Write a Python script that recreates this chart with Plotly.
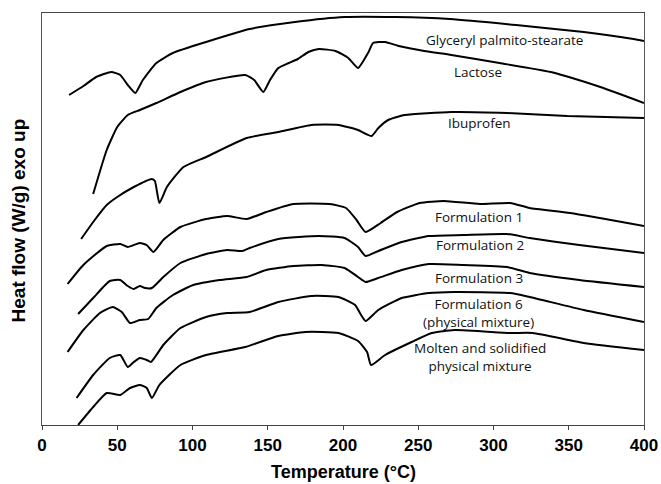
import plotly.graph_objects as go

# Temperature (°C) and heat flow (arbitrary units, exo up)
gps_T = [18, 27.5, 36, 46, 52, 57, 62, 67, 76, 87, 109, 138, 168, 201, 235, 271, 315, 360, 393, 400]
gps_H = [330, 339, 348, 353, 350, 340, 332, 345, 362, 372, 383, 396, 403, 408, 408, 406, 400, 393, 386, 384]

lac_T = [34, 43, 50, 57, 65, 76, 92, 109, 135, 141, 147, 151.5, 157, 164, 170, 177, 184, 195, 203.5, 210,
         217, 220, 228, 237, 254, 272, 304, 338, 371, 400]
lac_H = [231, 275, 298, 310, 315, 322, 333, 343, 350, 345, 333, 345, 357, 362, 366, 373, 376, 374, 367, 357,
         373, 382, 383, 379, 374, 370, 362, 353, 338, 322]

ibu_T = [26, 35, 43, 50, 61, 73, 75, 78, 83, 94, 109, 136, 157, 179, 197, 210, 219, 223.5, 230, 241, 272, 309, 349, 400]
ibu_H = [186, 205, 220, 228, 238, 246, 244, 222, 238, 258, 268, 287, 293, 300, 300, 295, 289, 297, 305, 310, 313, 312, 309, 307]

f1_T = [17, 27.5, 43, 52, 57, 65, 69.5, 74, 80.6, 92, 109, 123, 136, 149, 167, 191, 202, 209, 215, 225,
        236, 251, 267, 291, 311, 324, 351, 400]
f1_H = [141, 160, 179, 181, 178, 182, 180, 173, 185, 198, 206, 209, 206, 213, 221, 221, 217, 205, 193, 202,
        213, 222, 224, 221, 222, 217, 212, 199]

f2_T = [24, 34, 45, 52, 57, 61, 65, 68.4, 73, 80.6, 92, 109, 123, 133, 138, 157, 184, 201, 210, 215,
        223.5, 239, 257, 280, 309, 324, 357, 400]
f2_H = [111, 127, 144, 145, 139, 136, 139, 137, 137, 148, 162, 171, 175, 174, 177, 186, 189, 187, 178, 169,
        174, 183, 189, 190, 191, 187, 180, 172]

f3_T = [17, 27.5, 38.5, 47, 53, 58.5, 65, 70.6, 76, 87, 100.5, 118, 136, 149, 167, 186, 201, 210, 215,
        223.5, 239, 257, 280, 309, 324, 357, 400]
f3_H = [73, 95, 112, 118, 113, 102, 105, 106, 117, 130, 140, 145, 148, 155, 159, 160, 157, 148, 143,
        147, 155, 161, 160, 158, 152, 145, 138]

f6_T = [23, 34, 45, 52, 57, 61, 65, 69.6, 72.4, 80.6, 92, 109, 123, 138, 157, 179, 197, 208, 212, 215,
        223.5, 239, 257, 274, 311, 324, 360, 400]
f6_H = [27, 50, 67, 70, 58, 63, 67, 65, 63, 80, 97, 108, 112, 113, 123, 129, 128, 120, 110, 104,
        115, 127, 132, 133, 132, 128, 115, 103]

mol_T = [24, 34, 43, 52, 58.5, 65, 69.6, 73, 78, 92, 109, 135, 157, 175, 197, 210, 216, 218.6, 228,
         245.6, 259, 274, 311, 326, 360, 400]
mol_H = [0, 18, 32, 30, 37, 40, 37, 27, 40, 60, 70, 78, 89, 93, 92, 84, 73, 60, 70,
         83, 92, 95, 92, 92, 82, 75]

series = [
    ("Glyceryl palmito-stearate", gps_T, gps_H),
    ("Lactose", lac_T, lac_H),
    ("Ibuprofen", ibu_T, ibu_H),
    ("Formulation 1", f1_T, f1_H),
    ("Formulation 2", f2_T, f2_H),
    ("Formulation 3", f3_T, f3_H),
    ("Formulation 6 (physical mixture)", f6_T, f6_H),
    ("Molten and solidified physical mixture", mol_T, mol_H),
]

label_texts = ["Glyceryl palmito-stearate", "Lactose", "Ibuprofen", "Formulation 1",
               "Formulation 2", "Formulation 3", "Formulation 6<br>(physical mixture)",
               "Molten and solidified<br>physical mixture"]
label_T = [307.6, 289.7, 291, 290.4, 291, 290.4, 289.7, 291]
label_H = [385, 353, 302, 208, 180, 147, 112, 68]

x_ticks = [0, 50, 100, 150, 200, 250, 300, 350, 400]

fig = go.Figure()
for name, T, H in series:
    fig.add_trace(go.Scatter(x=T, y=H, mode="lines", name=name,
                             line=dict(color="black", width=2, shape="spline", smoothing=0.5),
                             showlegend=False, hoverinfo="skip"))

for t, xv, yv in zip(label_texts, label_T, label_H):
    fig.add_annotation(x=xv, y=yv, text=t, showarrow=False, xanchor="center", yanchor="middle",
                       font=dict(family="Open Sans, sans-serif", size=13.5, color="#111"))

# axis titles
fig.add_annotation(xref="paper", yref="paper", x=0.5, y=-0.114, text="<b>Temperature (°C)</b>",
                   showarrow=False, xanchor="center", yanchor="middle",
                   font=dict(family="Liberation Sans, Arial, sans-serif", size=18, color="black"))
fig.add_annotation(xref="paper", yref="paper", x=-0.0374, y=0.4976, text="<b>Heat flow (W/g) exo up</b>",
                   showarrow=False, xanchor="center", yanchor="middle", textangle=-90,
                   font=dict(family="Liberation Sans, Arial, sans-serif", size=19, color="black"))

fig.update_layout(
    width=661, height=484,
    margin=dict(l=42, r=17, t=13, b=59, autoexpand=False),
    paper_bgcolor="white", plot_bgcolor="white",
    xaxis=dict(range=[0, 400], tickvals=x_ticks, ticks="outside", ticklen=4, tickwidth=1,
               tickcolor="#444", showline=True, linecolor="#444", linewidth=1.3, mirror=True,
               showgrid=False, zeroline=False, automargin=False,
               tickfont=dict(family="Liberation Sans, Arial, sans-serif", size=17, color="black",
                             weight="bold")),
    yaxis=dict(range=[0, 412], showticklabels=False, ticks="", showline=True, linecolor="#555",
               linewidth=1.3, mirror=True, showgrid=False, zeroline=False, automargin=False),
)

fig.write_html("out.html")
